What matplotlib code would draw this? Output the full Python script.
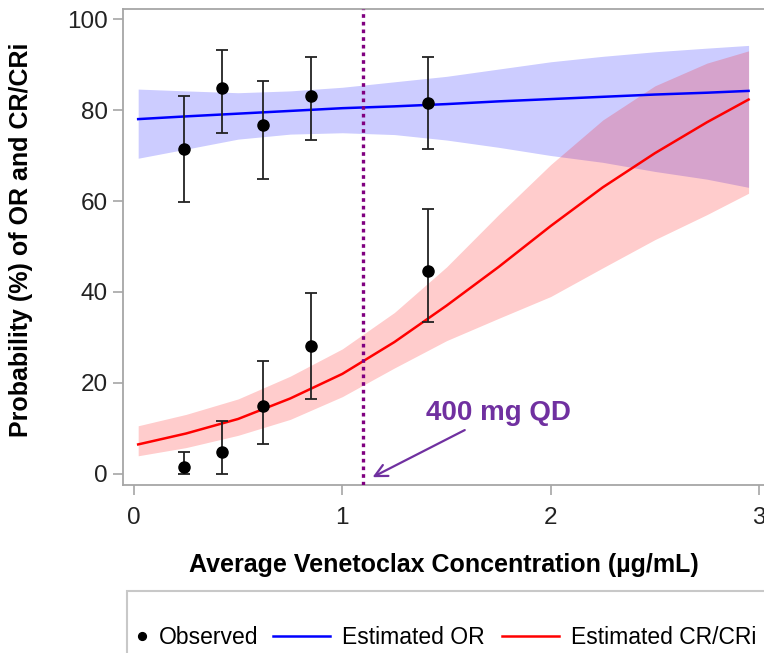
import matplotlib.pyplot as plt
from matplotlib.patches import Rectangle

plt.rcParams['font.family'] = ['Liberation Sans', 'DejaVu Sans']

# observed rates per concentration bin (%)
conc_obs = [0.24, 0.42, 0.62, 0.85, 1.41]
or_obs = [71.4, 84.9, 76.6, 83.1, 81.5]
or_lo = [59.8, 74.9, 64.8, 73.3, 71.5]
or_hi = [83.1, 93.1, 86.4, 91.6, 91.6]
cr_obs = [1.5, 4.8, 14.9, 28.1, 44.7]
cr_lo = [0.0, 0.0, 6.6, 16.4, 33.3]
cr_hi = [4.8, 11.6, 24.9, 39.8, 58.2]

# model estimates with confidence bands
conc_fit = [0.02, 0.25, 0.5, 0.75, 1.0, 1.25, 1.5, 1.75, 2.0, 2.25, 2.5, 2.75, 2.95]
or_fit = [78.0, 78.6, 79.2, 79.8, 80.4, 80.8, 81.3, 81.9, 82.4, 82.9, 83.4, 83.8, 84.2]
or_fit_hi = [84.6, 84.2, 83.8, 84.2, 85.0, 86.2, 87.4, 89.0, 90.6, 91.8, 92.8, 93.6, 94.2]
or_fit_lo = [69.4, 71.4, 73.6, 74.7, 75.0, 74.6, 73.4, 71.8, 70.0, 68.5, 66.5, 64.8, 63.0]
cr_fit = [6.5, 8.9, 12.1, 16.6, 22.0, 29.0, 37.0, 45.5, 54.5, 63.0, 70.5, 77.3, 82.3]
cr_fit_hi = [10.6, 13.1, 16.5, 21.5, 27.5, 35.5, 45.5, 57.0, 68.0, 77.8, 85.3, 90.3, 93.0]
cr_fit_lo = [4.0, 5.8, 8.5, 12.0, 17.0, 23.3, 29.3, 34.2, 39.0, 45.3, 51.5, 57.0, 61.7]

dose_conc = 1.10

fig = plt.figure(figsize=(7.64, 6.53), dpi=100)
ax = fig.add_axes([123 / 764, 1 - 485 / 653, 1 - 123 / 764, (485 - 9) / 653])

ax.fill_between(conc_fit, or_fit_lo, or_fit_hi, color='#0000ff', alpha=0.2, lw=0, zorder=1)
ax.fill_between(conc_fit, cr_fit_lo, cr_fit_hi, color='#ff0000', alpha=0.2, lw=0, zorder=2)
ax.plot(conc_fit, or_fit, color='#0000ff', lw=1.8, zorder=3, label='Estimated OR')
ax.plot(conc_fit, cr_fit, color='#ff0000', lw=1.8, zorder=3, label='Estimated CR/CRi')

ax.axvline(dose_conc, color='#800080', lw=2.4, dashes=(1.1, 1.2), zorder=4)

for y, lo, hi in [(or_obs, or_lo, or_hi), (cr_obs, cr_lo, cr_hi)]:
    err = [[a - b for a, b in zip(y, lo)], [c - a for a, c in zip(y, hi)]]
    ax.errorbar(conc_obs, y, yerr=err, fmt='none', ecolor='#222222', elinewidth=1.3,
                capsize=4.5, capthick=1.3, zorder=5)
pts = ax.plot(conc_obs, or_obs, 'o', color='black', ms=8, zorder=6, label='Observed')
ax.plot(conc_obs, cr_obs, 'o', color='black', ms=8, zorder=6)

ax.annotate('400 mg QD', xy=(1.145, -0.7), xytext=(1.40, 13.4), color='#7030a0',
            fontsize=20, fontweight='bold', va='center', ha='left',
            arrowprops=dict(arrowstyle='->', color='#7030a0', lw=1.6,
                            mutation_scale=22, shrinkA=2, shrinkB=0))

ax.set_xlim(-0.0528, 3.024)
ax.set_ylim(-2.42, 102.2)
ax.set_xticks([0, 1, 2, 3])
ax.set_yticks([0, 20, 40, 60, 80, 100])
for s in ['left', 'bottom', 'top']:
    ax.spines[s].set_color('#a6a6a6')
    ax.spines[s].set_linewidth(1.3)
ax.spines['right'].set_visible(False)
ax.tick_params(axis='both', colors='#a6a6a6', labelcolor='#222222', labelsize=17.5,
               length=7, width=1.2)
ax.tick_params(axis='x', pad=9)
ax.tick_params(axis='y', pad=4)

ax.set_xlabel('Average Venetoclax Concentration (\u00b5g/mL)', fontsize=18,
              fontweight='bold')
ax.set_ylabel('Probability (%) of OR and CR/CRi', fontsize=18, fontweight='bold')
ax.xaxis.set_label_coords(0.5, -0.143)
ax.yaxis.set_label_coords(-0.14, 0.515)

# legend box
fig.patches.append(Rectangle((127 / 764, -0.05), 1.0, (653 - 591) / 653 + 0.05,
                             transform=fig.transFigure, fill=False,
                             edgecolor='#c8c8c8', lw=1.5))
leg1 = fig.legend(handles=pts, loc='center left', bbox_to_anchor=(134 / 764, 15 / 653),
                  frameon=False, fontsize=16.5, handlelength=0.7, handletextpad=0.4,
                  markerscale=0.7, borderpad=0, borderaxespad=0)
lines = ax.get_lines()[:2]
fig.legend(handles=lines, loc='center left', bbox_to_anchor=(273 / 764, 15 / 653),
           frameon=False, fontsize=16.5, ncol=2, handlelength=2.5, handletextpad=0.52,
           columnspacing=0.75, borderpad=0, borderaxespad=0)

fig.savefig('out.png', dpi=100)
